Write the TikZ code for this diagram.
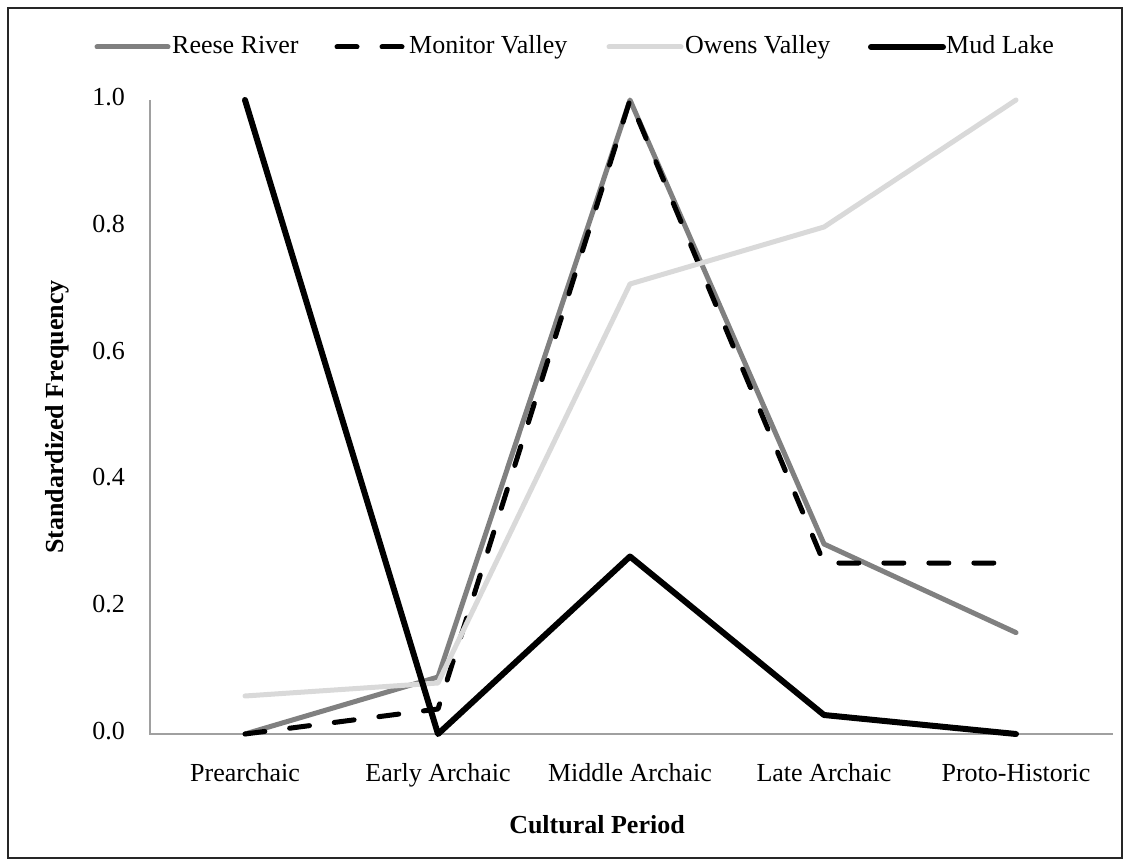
\documentclass[tikz,border=0pt]{standalone}
\usepackage{fontspec}
\setmainfont{Liberation Serif}

\definecolor{reesegray}{RGB}{128,128,128}
\definecolor{owensgray}{RGB}{217,217,217}
\definecolor{axisgray}{RGB}{160,160,160}

\tikzset{
  framebox/.style={draw=black!85, line width=1.5pt},
  axisline/.style={draw=axisgray, line width=1.6pt},
  series/.style={line width=5pt, line join=round, line cap=round},
  reeseline/.style={series, draw=reesegray},
  monitorline/.style={series, draw=black, dash pattern=on 20pt off 25pt},
  owensline/.style={series, draw=owensgray},
  mudline/.style={series, draw=black, line width=6pt},
  ticklabel/.style={inner sep=0pt, text height=17pt, text depth=6pt,
    font=\fontsize{26}{30}\selectfont},
  axistitle/.style={inner sep=0pt, text height=17pt, text depth=6pt,
    font=\fontsize{26}{30}\selectfont\bfseries},
}

\begin{document}
\begin{tikzpicture}[x=1pt, y=-1pt]
\useasboundingbox (0,0) rectangle (1130,866);
\draw[framebox] (8,8) rectangle (1122,858);

% axes
\draw[axisline] (150,100) -- (150,734) -- (1113,734);
\foreach \v/\y [count=\i] in {0.0/734, 0.2/607.2, 0.4/480.4, 0.6/353.6, 0.8/226.8, 1.0/100}
  \node[ticklabel, anchor=east] (ytick\i) at (125,\y) {\v};
\foreach \lab/\x [count=\i] in {Prearchaic/245, Early Archaic/438, Middle Archaic/630, Late Archaic/824, Proto-Historic/1016}
  \node[ticklabel] (xtick\i) at (\x,776) {\lab};
\node[axistitle, rotate=90] (ytitle) at (58,417) {Standardized Frequency};
\node[axistitle] (xtitle) at (597,828) {Cultural Period};

% series
\draw[reeseline] (245,734) -- (438,677) -- (630,100) -- (824,544) -- (1016,632.6);
\draw[monitorline] (245,734) -- (438,709) -- (630,100) -- (824,563) -- (1016,563);
\draw[owensline] (245,696) -- (438,683) -- (630,284) -- (824,227) -- (1016,100);
\draw[mudline] (245,100) -- (438,734) -- (630,556.5) -- (824,715) -- (1016,734);

% legend
\draw[reeseline] (97,47) -- (168,47);
\node[ticklabel, anchor=west] (keyreese) at (172,48) {Reese River};
\draw[monitorline] (337,47) -- (405,47);
\node[ticklabel, anchor=west] (keymonitor) at (409,48) {Monitor Valley};
\draw[owensline] (609,47) -- (681,47);
\node[ticklabel, anchor=west] (keyowens) at (685,48) {Owens Valley};
\draw[mudline] (871,47) -- (943,47);
\node[ticklabel, anchor=west] (keymud) at (946,48) {Mud Lake};
\end{tikzpicture}
\end{document}
